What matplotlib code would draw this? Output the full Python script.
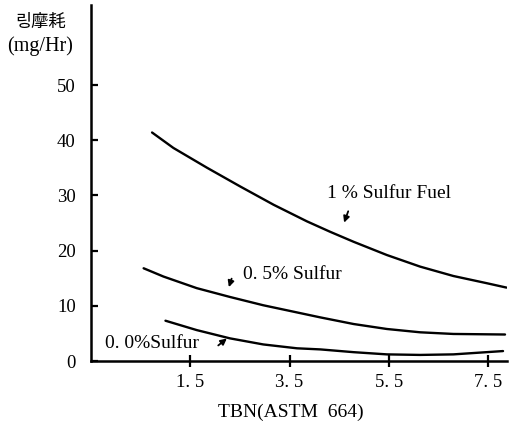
import numpy as np
import matplotlib
matplotlib.use("Agg")
import matplotlib.pyplot as plt

# values
tbn_1 = [0.73, 1.16, 1.84, 2.51, 3.18, 3.85, 4.32, 4.79, 5.46, 6.13, 6.80, 7.47, 7.87]
wear_1 = [41.4, 38.6, 35.0, 31.6, 28.3, 25.3, 23.4, 21.6, 19.2, 17.1, 15.4, 14.1, 13.3]

tbn_05 = [0.56, 0.96, 1.63, 2.30, 2.97, 3.65, 4.12, 4.79, 5.46, 6.13, 6.80, 7.84]
wear_05 = [16.8, 15.3, 13.2, 11.6, 10.1, 8.8, 7.9, 6.7, 5.8, 5.2, 4.9, 4.8]

tbn_00 = [1.0, 1.63, 2.30, 2.97, 3.65, 4.12, 4.79, 5.46, 6.13, 6.80, 7.80]
wear_00 = [7.3, 5.6, 4.1, 3.0, 2.3, 2.1, 1.6, 1.2, 1.1, 1.2, 1.8]

xticks = [1.5, 3.5, 5.5, 7.5]
xticklabels = ["1. 5", "3. 5", "5. 5", "7. 5"]
yticks = [0, 10, 20, 30, 40, 50]

serif = ["Liberation Serif", "DejaVu Serif"]

fig = plt.figure(figsize=(5.09, 4.28), dpi=100)
ax = fig.add_axes([91 / 509, 67 / 428, 416 / 509, 356 / 428])

for xs, ys in [(tbn_1, wear_1), (tbn_05, wear_05), (tbn_00, wear_00)]:
    ax.plot(xs, ys, color="black", lw=1.7, solid_capstyle="round")

ax.set_xlim(-0.5, 7.88)
ax.set_ylim(0, 64.5)
ax.spines["top"].set_visible(False)
ax.spines["right"].set_visible(False)
ax.spines["left"].set_linewidth(1.8)
ax.spines["bottom"].set_linewidth(1.8)

ax.set_xticks(xticks)
ax.set_xticklabels(xticklabels, fontfamily=serif, fontsize=13.5)
ax.set_yticks(yticks)
ax.set_yticklabels([str(v) for v in yticks], fontfamily=serif, fontsize=13.5)
ax.tick_params(axis="x", direction="inout", length=9, width=1.6, pad=5)
ax.tick_params(axis="y", direction="in", length=5, width=1.6, pad=11)

ax.set_xlabel("TBN(ASTM  664)", fontfamily=serif, fontsize=14)
ax.xaxis.set_label_coords((291 - 91) / 416, -(412 - 361) / 356)
ax.xaxis.label.set_va("center")

fig.text(41 / 509, 1 - 22 / 428, "링摩耗", ha="center", va="center",
         fontsize=12.5, family=["Noto Sans CJK KR", "DejaVu Sans"])
fig.text(40 / 509, 1 - 46 / 428, "(mg/Hr)", ha="center", va="center",
         fontsize=14.5, family=serif)

# curve labels with short arrows
ax.text(4.26, 30.4, "1 % Sulfur Fuel", fontfamily=serif, fontsize=14, va="center")
ax.annotate("", xy=(4.58, 24.6), xytext=(4.70, 27.6),
            arrowprops=dict(arrowstyle="-|>", color="black", lw=1.3, mutation_scale=9))

ax.text(2.57, 15.6, "0. 5% Sulfur", fontfamily=serif, fontsize=14, va="center")
ax.annotate("", xy=(2.26, 12.9), xytext=(2.35, 15.4),
            arrowprops=dict(arrowstyle="-|>", color="black", lw=1.3, mutation_scale=9))

ax.text(-0.21, 3.2, "0. 0%Sulfur", fontfamily=serif, fontsize=14, va="center")
ax.annotate("", xy=(2.28, 4.4), xytext=(2.02, 2.5),
            arrowprops=dict(arrowstyle="-|>", color="black", lw=1.3, mutation_scale=9))

fig.savefig("out.png", dpi=100)
